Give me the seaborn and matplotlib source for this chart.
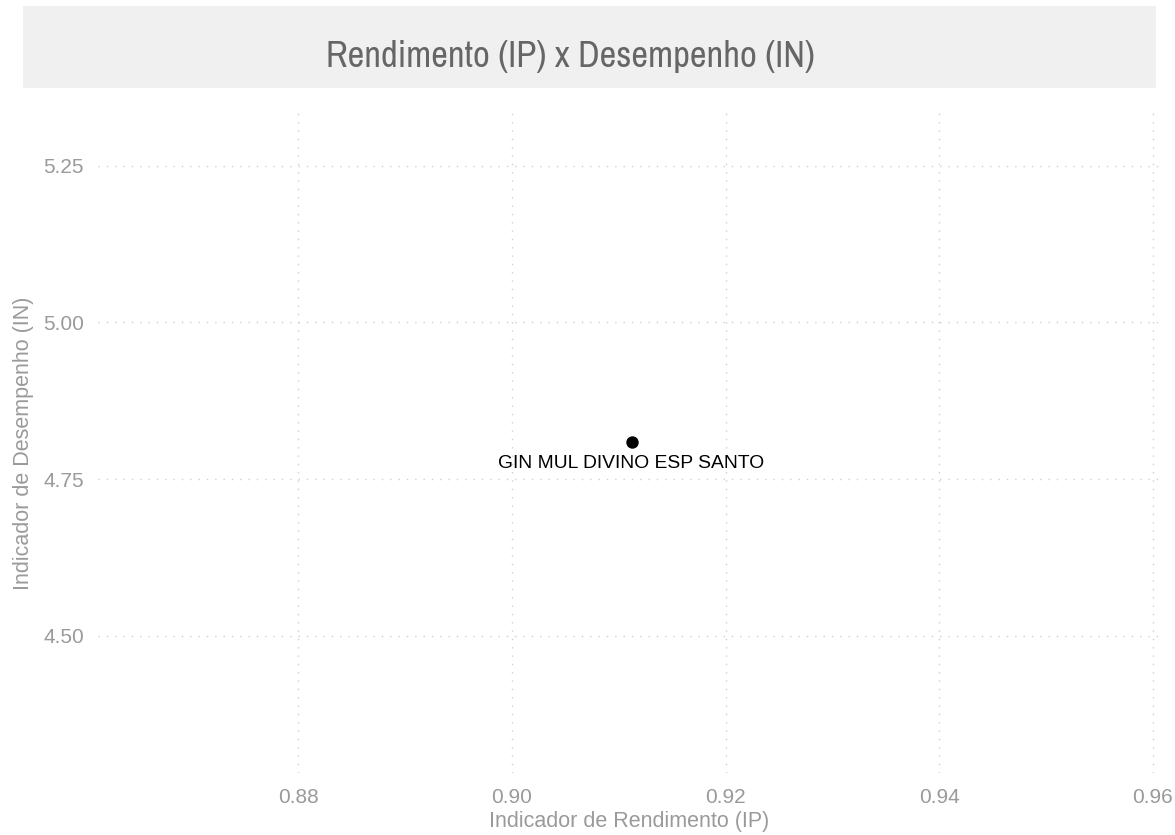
import matplotlib
matplotlib.use('Agg')
import matplotlib.pyplot as plt
from matplotlib import font_manager
from matplotlib.patches import Rectangle
import pandas as pd
import seaborn as sns

# dados do gráfico
unidades = ["GIN MUL DIVINO ESP SANTO"]
rendimento_ip = [0.9112]
desempenho_in = [4.809]

x_ticks = [0.88, 0.90, 0.92, 0.94, 0.96]
y_ticks = [4.50, 4.75, 5.00, 5.25]

df = pd.DataFrame({"unidade": unidades, "ip": rendimento_ip, "in": desempenho_in})

sns.set_style("white")
plt.rcParams['font.family'] = ['Liberation Sans', 'DejaVu Sans']

# procura uma fonte estreita para o título
fonte_titulo, stretch_titulo, tam_titulo = 'Liberation Sans', 'normal', 21.7
for f in font_manager.fontManager.ttflist:
    if 'Narrow' in f.name or 'Condensed' in f.name:
        fonte_titulo, stretch_titulo, tam_titulo = f.name, 'normal', 26.3
        break
else:
    for f in font_manager.fontManager.ttflist:
        if f.stretch in ('condensed', 'semi-condensed') and f.style == 'normal':
            fonte_titulo, stretch_titulo, tam_titulo = f.name, f.stretch, 22
            break

fig = plt.figure(figsize=(11.75, 8.35), dpi=100)
ax = fig.add_axes([98 / 1175, 62 / 835, 1062 / 1175, 660 / 835])

sns.scatterplot(data=df, x="ip", y="in", color="black", s=80, edgecolor="black",
                linewidth=0, ax=ax, zorder=3)

# rótulo abaixo do ponto
for _, row in df.iterrows():
    ax.annotate(row["unidade"], (row["ip"], row["in"]), xytext=(0, -9),
                textcoords="offset points", ha="center", va="top",
                fontsize=13.9, color="black")

ax.set_xlim(0.86125, 0.96068)
ax.set_ylim(4.2814, 5.3339)
ax.set_xticks(x_ticks)
ax.set_xticklabels([f"{v:.2f}" for v in x_ticks])
ax.set_yticks(y_ticks)
ax.set_yticklabels([f"{v:.2f}" for v in y_ticks])

ax.grid(True, linestyle=(0, (1, 5)), color="#cfcfcf", linewidth=1)
for s in ax.spines.values():
    s.set_visible(False)
ax.tick_params(axis="both", length=0, labelsize=15, labelcolor="#9a9a9a")
ax.tick_params(axis="x", pad=11)
ax.tick_params(axis="y", pad=10)

ax.set_xlabel("Indicador de Rendimento (IP)", fontsize=15.5, color="#9a9a9a", labelpad=3)
ax.set_ylabel("Indicador de Desempenho (IN)", fontsize=15.5, color="#9a9a9a", labelpad=7)

# faixa do título
fig.patches.append(Rectangle((23 / 1175, 747 / 835), 1133 / 1175, 82 / 835,
                             transform=fig.transFigure, facecolor="#f0f0f0",
                             edgecolor="none", zorder=0))
fig.text(570 / 1175, 768 / 835, "Rendimento (IP) x Desempenho (IN)",
         ha="center", va="baseline", fontsize=tam_titulo, color="#666666",
         family=[fonte_titulo, 'DejaVu Sans'], fontstretch=stretch_titulo)

fig.savefig("out.png", dpi=100)
plt.close(fig)
